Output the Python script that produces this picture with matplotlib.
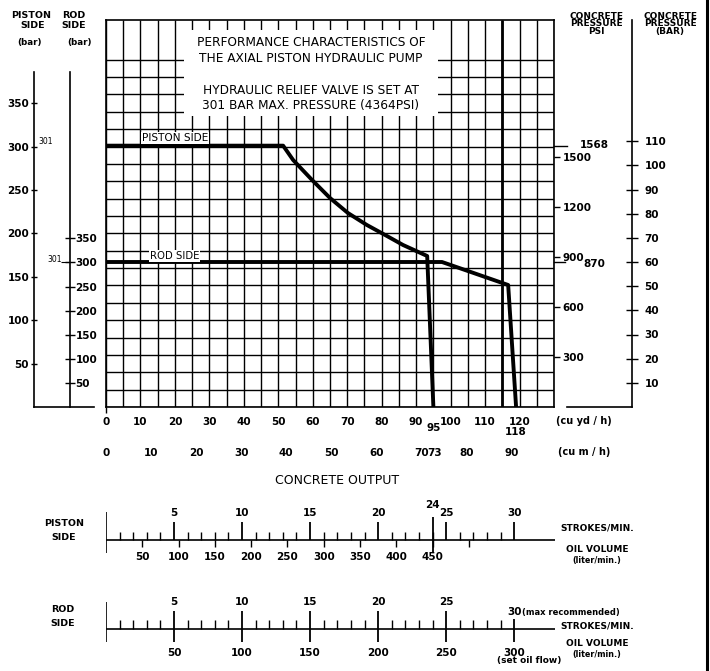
import numpy as np
import matplotlib
matplotlib.use("Agg")
import matplotlib.pyplot as plt
from matplotlib.patches import Rectangle
from matplotlib.lines import Line2D

W, H = 710, 671

# every pressure scale is pinned to the concrete psi scale
PSI_PER_PISTON_BAR = 1568 / 301
PSI_PER_ROD_BAR = 870 / 301
PSI_PER_BAR = 14.5
CUM_PER_CUYD = 0.7646
PSI_TOP = 2322
LPM_PER_STROKE_PISTON = 18.75
LPM_PER_STROKE_ROD = 10.0

# performance curves: concrete output (cu yd/h) vs concrete pressure (psi)
piston_out = [0, 51.4, 54.3, 59.8, 65.0, 70.2, 75.7, 81.0, 86.2, 93.2, 95]
piston_psi = [1568, 1568, 1482, 1362, 1254, 1164, 1092, 1032, 972, 906, 0]
rod_out = [0, 97.5, 116.7, 119]
rod_psi = [870, 870, 732, 0]

# scales
piston_bar_ticks = [50, 100, 150, 200, 250, 300, 350]
rod_bar_ticks = [50, 100, 150, 200, 250, 300, 350]
psi_ticks = [300, 600, 900, 1200, 1500]
bar_ticks = [10, 20, 30, 40, 50, 60, 70, 80, 90, 100, 110]
cuyd_ticks = [0, 10, 20, 30, 40, 50, 60, 70, 80, 90, 100, 110, 120]
cum_ticks = [0, 10, 20, 30, 40, 50, 60, 70, 73, 80, 90]
stroke_major = [5, 10, 15, 20, 25, 30]
stroke_minor = [s for s in range(1, 31) if s % 5]
piston_oil_ticks = [50, 100, 150, 200, 250, 300, 350, 400, 450, 500]
piston_oil_labels = ['50', '100', '150', '200', '250', '300', '350', '400', '450', '']
rod_oil_ticks = [50, 100, 150, 200, 250, 300]

fig = plt.figure(figsize=(W / 100, H / 100), dpi=100)


def box(x0, y0, x1, y1):
    return fig.add_axes([x0 / W, 1 - y1 / H, (x1 - x0) / W, (y1 - y0) / H])


def put(x, y, s, **kw):
    kw.setdefault('ha', 'center')
    kw.setdefault('va', 'center')
    kw.setdefault('fontsize', 7.5)
    fig.text(x / W, 1 - y / H, s, **kw)


# ---- main grid ----
ax = box(106, 20, 554, 407)
ax.set_xlim(0, 130)
ax.set_ylim(0, PSI_TOP)
ax.vlines(np.arange(0, 131, 5), 0, PSI_TOP, color='k', lw=1.0)
ax.vlines(115, 0, PSI_TOP, color='k', lw=2.0)
ax.hlines(np.arange(0, 401, 20) * PSI_PER_PISTON_BAR, 0, 130, color='k', lw=1.0)
ax.vlines(0, -36, 0, color='k', lw=1.0, clip_on=False)
for s in ax.spines.values():
    s.set_linewidth(1.2)
ax.add_patch(Rectangle((22.5, 1746), 73.8, 516, fc='white', ec='none', zorder=3))
ax.plot(piston_out, piston_psi, color='k', lw=2.8, zorder=4)
ax.plot(rod_out, rod_psi, color='k', lw=2.8, zorder=4)

ax.set_yticks([])
ax.set_xticks(cuyd_ticks)
ax.set_xticklabels([str(t) for t in cuyd_ticks])
ax.tick_params(axis='x', length=0, pad=7, labelsize=7.5)
for lab in ax.get_xticklabels():
    lab.set_fontweight('bold')
ax.text(95, -126, '95', ha='center', va='center', fontsize=7.5, fontweight='bold')
ax.text(119, -150, '118', ha='center', va='center', fontsize=7.5, fontweight='bold')

cum = ax.secondary_xaxis(-(448 - 407) / 387,
                         functions=(lambda x: x * CUM_PER_CUYD, lambda x: x / CUM_PER_CUYD))
cum.set_xticks(cum_ticks)
cum.set_xticklabels([str(t) for t in cum_ticks])
cum.tick_params(length=0, pad=0, labelsize=7.5)
cum.spines['bottom'].set_visible(False)
for lab in cum.get_xticklabels():
    lab.set_fontweight('bold')

# psi ticks on the right edge of the grid
ax_psi = ax.twinx()
ax_psi.set_ylim(0, PSI_TOP)
ax_psi.set_yticks(psi_ticks)
ax_psi.set_yticklabels([str(t) for t in psi_ticks])
ax_psi.tick_params(direction='out', length=4.5, width=1, pad=1.5, labelsize=7.5)
for lab in ax_psi.get_yticklabels():
    lab.set_fontweight('bold')
for s in ax_psi.spines.values():
    s.set_visible(False)
ytr = ax_psi.get_yaxis_transform()
ax_psi.plot([1, 1.03], [1568, 1568], color='k', lw=1.0, transform=ytr, clip_on=False)
ax_psi.plot([1, 1.025], [870, 870], color='k', lw=1.0, transform=ytr, clip_on=False)
put(580, 145, '1568', ha='left', fontweight='bold')
put(583, 264, '870', ha='left', fontweight='bold')

# box text
for y, s in [(42, 'PERFORMANCE CHARACTERISTICS OF'),
             (59, 'THE AXIAL PISTON HYDRAULIC PUMP'),
             (90, 'HYDRAULIC RELIEF VALVE IS SET AT'),
             (105, '301 BAR MAX. PRESSURE (4364PSI)')]:
    put(311, y, s, fontsize=8.7, zorder=5)

put(142, 138, 'PISTON SIDE', ha='left', fontsize=7.6,
    bbox=dict(fc='white', ec='none', pad=0.6))
put(150, 256, 'ROD SIDE', ha='left', fontsize=7.3,
    bbox=dict(fc='white', ec='none', pad=0.4))

# ---- left bar scales ----
axl = box(34, 20, 94, 407)
axl.set_xlim(0, 1)
axl.set_ylim(0, PSI_TOP)
axl.patch.set_visible(False)
axl.spines['top'].set_visible(False)
axl.spines['right'].set_visible(False)
axl.spines['left'].set_bounds(0, (407 - 72) * 6)
for s in axl.spines.values():
    s.set_linewidth(1.2)
axl.set_xticks([])
axl.set_yticks(np.array(piston_bar_ticks) * PSI_PER_PISTON_BAR)
axl.set_yticklabels([str(t) for t in piston_bar_ticks])
axl.tick_params(axis='y', direction='inout', length=5, width=1, pad=1, labelsize=7.5)
for lab in axl.get_yticklabels():
    lab.set_fontweight('bold')
axl.hlines(301 * PSI_PER_ROD_BAR, 0.45, 0.6, color='k', lw=0.8)

axrod = axl.twinx()
axrod.set_ylim(0, PSI_TOP)
for k in ['top', 'left', 'bottom']:
    axrod.spines[k].set_visible(False)
axrod.spines['right'].set_position(('axes', 36 / 60))
axrod.spines['right'].set_bounds(0, (407 - 72) * 6)
axrod.spines['right'].set_linewidth(1.2)
axrod.set_yticks(np.array(rod_bar_ticks) * PSI_PER_ROD_BAR)
axrod.set_yticklabels([str(t) for t in rod_bar_ticks])
axrod.tick_params(axis='y', direction='inout', length=7, width=1, pad=0.5, labelsize=7.5)
for lab in axrod.get_yticklabels():
    lab.set_fontweight('bold')

put(38, 142, '301', ha='left', fontsize=5.5)
put(62, 260, '301', ha='right', fontsize=5.5)

for x, y, s in [(31, 15, 'PISTON'), (33, 26, 'SIDE'), (74, 15, 'ROD'), (74, 26, 'SIDE')]:
    put(x, y, s, fontsize=6.8, fontweight='bold')
put(29, 43, '(bar)', fontsize=6.3, fontweight='bold')
put(79, 43, '(bar)', fontsize=6.3, fontweight='bold')

# ---- right concrete bar scale ----
axc = box(567, 20, 632, 407)
axc.set_xlim(0, 1)
axc.set_ylim(0, PSI_TOP)
axc.patch.set_visible(False)
axc.spines['top'].set_visible(False)
axc.spines['left'].set_visible(False)
for s in axc.spines.values():
    s.set_linewidth(1.2)
axc.set_xticks([])
axc.yaxis.tick_right()
axc.set_yticks(np.array(bar_ticks) * PSI_PER_BAR)
axc.set_yticklabels([str(t) for t in bar_ticks])
axc.tick_params(axis='y', direction='inout', length=8, width=1, pad=5, labelsize=7.5)
for lab in axc.get_yticklabels():
    lab.set_fontweight('bold')

put(596, 24, 'CONCRETE\nPRESSURE\nPSI', fontsize=6.5, fontweight='bold', linespacing=0.85)
put(670, 24, 'CONCRETE\nPRESSURE\n(BAR)', fontsize=6.5, fontweight='bold', linespacing=0.85)

put(584, 421, '(cu yd / h)', fontsize=7, fontweight='bold')
put(584, 452, '(cu m / h)', fontsize=7, fontweight='bold')
put(337, 480, 'CONCRETE OUTPUT', fontsize=9)

# ---- strokes / oil volume scales ----
axp = box(106, 495, 555, 575)
axp.set_xlim(0, 33)
axp.set_ylim(-35, 45)
axp.axis('off')
axp.axhline(0, color='k', lw=1.2)
axp.vlines(0, -13, 28, color='k', lw=1.2)
axp.vlines(stroke_minor, 0, 8, color='k', lw=1.0)
axp.vlines(stroke_major, 0, 18, color='k', lw=1.3)
axp.vlines(24, -13, 23, color='k', lw=1.3)
axp.vlines(np.array(piston_oil_ticks) / LPM_PER_STROKE_PISTON, -7, 0, color='k', lw=1.0)
for s in stroke_major:
    axp.text(s, 27, str(s), ha='center', va='center', fontsize=7.5, fontweight='bold')
axp.text(24, 35, '24', ha='center', va='center', fontsize=7.5, fontweight='bold')
for v, lab in zip(piston_oil_ticks, piston_oil_labels):
    axp.text(v / LPM_PER_STROKE_PISTON, -17, lab, ha='center', va='center',
             fontsize=7.5, fontweight='bold')

axr2 = box(106, 590, 555, 671)
axr2.set_xlim(0, 33)
axr2.set_ylim(-42, 39)
axr2.axis('off')
axr2.axhline(0, color='k', lw=1.2)
axr2.vlines(0, -13, 27, color='k', lw=1.2)
axr2.vlines(stroke_minor, 0, 9, color='k', lw=1.0)
axr2.vlines(stroke_major[:-1], -13, 18, color='k', lw=1.3)
axr2.vlines(stroke_major[-1], -13, 10, color='k', lw=1.3)
for s in stroke_major[:-1]:
    axr2.text(s, 27, str(s), ha='center', va='center', fontsize=7.5, fontweight='bold')
axr2.text(stroke_major[-1], 17, str(stroke_major[-1]), ha='center', va='center',
          fontsize=7.5, fontweight='bold')
for v in rod_oil_ticks:
    axr2.text(v / LPM_PER_STROKE_ROD, -24, str(v), ha='center', va='center',
              fontsize=7.5, fontweight='bold')

put(529, 661, '(set oil flow)', fontsize=6.5, fontweight='bold')
put(522, 612, '(max recommended)', ha='left', fontsize=6, fontweight='bold')

for y0 in (528, 626):
    put(597, y0, 'STROKES/MIN.', fontsize=6.5, fontweight='bold')
for y0 in (550, 644):
    put(597, y0, 'OIL VOLUME', fontsize=6.5, fontweight='bold')
    put(597, y0 + 10, '(liter/min.)', fontsize=5.8, fontweight='bold')

put(64, 523, 'PISTON', fontsize=6.8, fontweight='bold')
put(64, 537, 'SIDE', fontsize=6.8, fontweight='bold')
put(63, 610, 'ROD', fontsize=6.8, fontweight='bold')
put(63, 624, 'SIDE', fontsize=6.8, fontweight='bold')

fig.add_artist(Line2D([707 / W, 707 / W], [0, 1], color='k', lw=2.2))

fig.savefig('out.png', dpi=100)
